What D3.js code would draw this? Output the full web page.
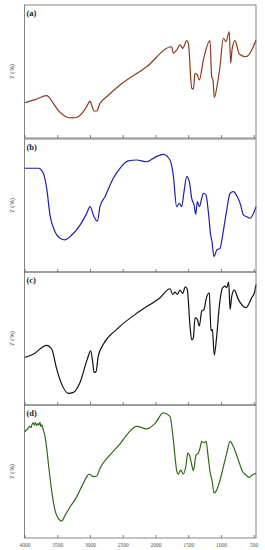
<!DOCTYPE html>
<html>
<head>
<meta charset="utf-8">
<script src="https://cdn.jsdelivr.net/npm/d3@7"></script>
<style>
  body { margin: 0; background: #fff; }
  svg { display: block; }
</style>
</head>
<body>
<div id="chart"></div>
<script>
// wavenumber ticks (cm-1)
const xTicks = [4000, 3500, 3000, 2500, 2000, 1500, 1000, 500];
const panelLabels = ["(a)", "(b)", "(c)", "(d)"];
const panelColors = ["#8b3b1e", "#1f1fa6", "#111111", "#2f6a19"];

// spectrum (a): [wavenumber, transmittance (relative)]
const specA = [
  [4000, 26.5], [3838, 28.9], [3661, 31.8], [3560, 26.1], [3488, 21], [3407, 17.3],
  [3350, 15.6], [3274, 15.2], [3198, 15.6], [3101, 19.8], [3046, 24], [3000, 27.8],
  [2970, 24], [2939, 20.3], [2898, 20.3], [2847, 26.1], [2745, 31], [2542, 39.8],
  [2135, 53.6], [1753, 68.6], [1728, 63.8], [1676, 66.2], [1626, 70], [1584, 67.4],
  [1523, 73.2], [1498, 71.3], [1446, 37.4], [1421, 36.7], [1396, 48.6], [1361, 47.4],
  [1330, 43.6], [1269, 58.6], [1168, 73.2], [1142, 46.1], [1122, 43.6], [1102, 30.6],
  [1045, 43.6], [1015, 53.6], [964, 75], [923, 72.4], [873, 79.9], [852, 56.2],
  [831, 66.2], [786, 73.2], [720, 63.2], [618, 61.1], [506, 68.6], [465, 73.7]
];

// spectrum (b)
const specB = [
  [4000, 78], [3787, 78], [3713, 74.2], [3661, 62.9], [3611, 42.9], [3534, 30.3],
  [3458, 25.3], [3381, 24.1], [3305, 26.5], [3152, 35.3], [3050, 44.1], [2999, 49.1],
  [2939, 41.6], [2888, 38.3], [2847, 49.1], [2771, 56.6], [2644, 70.5], [2542, 78],
  [2416, 83.5], [2287, 84.2], [2134, 82.9], [2008, 86.2], [1881, 88.5], [1778, 84.2],
  [1728, 72.9], [1677, 49.1], [1636, 51.7], [1600, 49.1], [1564, 60.4], [1523, 71.7],
  [1483, 67.9], [1447, 55.4], [1411, 50.4], [1385, 43.4], [1361, 52.9], [1330, 49.1],
  [1294, 55.4], [1269, 59.2], [1228, 57.9], [1193, 45.3], [1157, 27.8], [1137, 22.8],
  [1107, 11.5], [1065, 16.5], [1014, 17.8], [974, 27.8], [912, 46.6], [861, 59.2],
  [811, 60.4], [750, 56.6], [699, 50.4], [658, 42.9], [607, 41.6], [557, 40.4], [465, 49.1]
];

// spectrum (c)
const specC = [
  [4000, 35.7], [3866, 38.2], [3661, 44.9], [3584, 41.9], [3508, 27], [3432, 15.7],
  [3331, 8.8], [3254, 9.5], [3152, 17], [3041, 34.5], [2990, 40.7], [2958, 32],
  [2939, 24.5], [2909, 24.9], [2873, 36.9], [2796, 45.7], [2592, 56.9], [2237, 70.6],
  [1931, 80.7], [1778, 87.4], [1736, 83.1], [1702, 84.9], [1667, 83.1], [1626, 86.4],
  [1584, 83.9], [1545, 88.9], [1514, 86.9], [1473, 59.4], [1446, 48.9], [1421, 50.7],
  [1396, 65.7], [1361, 64.4], [1330, 59.4], [1294, 70.6], [1258, 71.9], [1228, 79.4],
  [1178, 84.4], [1152, 55.7], [1132, 56.9], [1102, 37.5], [1065, 51.9], [1025, 74.4],
  [974, 88.2], [938, 89.4], [912, 88.2], [882, 92.4], [861, 71.9], [835, 81.9],
  [796, 86.4], [735, 79.4], [618, 73.2], [530, 80.7], [490, 84.4], [465, 90.6]
];

// spectrum (d)
const specD = [
  [4000, 79.7], [3942, 82.7], [3920, 84], [3900, 83], [3885, 85.5], [3866, 86.5],
  [3850, 84.8], [3835, 86.8], [3813, 84.5], [3795, 86], [3780, 85], [3764, 87],
  [3750, 84], [3735, 85], [3722, 82.7], [3687, 76.4], [3661, 67.6], [3636, 56.2],
  [3586, 36], [3534, 20.8], [3483, 14.5], [3432, 12.7], [3381, 17], [3305, 23.3],
  [3203, 30.9], [3102, 41.1], [3011, 48.1], [2949, 46.1], [2897, 46.6], [2847, 52.4],
  [2694, 62.5], [2541, 70.8], [2416, 78.9], [2287, 83.9], [2134, 82], [2008, 86],
  [1881, 94.1], [1778, 91.5], [1728, 73.9], [1677, 51.1], [1651, 48.1], [1615, 51.1],
  [1574, 48.1], [1533, 54.9], [1507, 63.8], [1473, 61.2], [1446, 54.9], [1421, 50.6],
  [1380, 62.5], [1345, 63.8], [1319, 67.8], [1294, 72.6], [1258, 71.6], [1228, 72.6],
  [1193, 60], [1157, 47.3], [1137, 43.6], [1107, 33.9], [1065, 36], [1014, 43.6],
  [963, 53.6], [912, 63.8], [861, 72.6], [811, 68.8], [735, 58.7], [668, 49.8],
  [618, 47.3], [566, 45.6], [525, 47.3], [465, 48.6]
];

const spectra = [specA, specB, specC, specD];

// layout
const width = 265, height = 550;
const left = 24.5, right = 256;
const panelTops = [5, 139, 272, 405];
const panelH = 133;

const svg = d3.select("#chart")
  .append("svg")
    .attr("width", width)
    .attr("height", height);

const x = d3.scaleLinear()
  .domain([4000, 465])
  .range([left, right]);

spectra.forEach(function(data, i) {
  const top = panelTops[i];
  const y = d3.scaleLinear()
    .domain([0, 100])
    .range([top + panelH, top]);

  const g = svg.append("g");

  // bottom axis with inward ticks
  const axis = d3.axisBottom(x)
    .tickValues(xTicks)
    .tickSizeInner(-3)
    .tickSizeOuter(0)
    .tickPadding(5)
    .tickFormat(i === 3 ? d3.format("d") : "");

  const ax = g.append("g")
    .attr("transform", "translate(0," + (top + panelH) + ")")
    .call(axis);
  ax.select(".domain").remove();
  ax.selectAll(".tick line").attr("stroke", "#666").attr("stroke-width", 0.8);
  ax.selectAll(".tick text")
    .attr("font-family", "'Liberation Serif', serif")
    .attr("font-size", 5.5)
    .attr("fill", "#555");

  // curve
  g.append("path")
    .datum(data)
    .attr("fill", "none")
    .attr("stroke", panelColors[i])
    .attr("stroke-width", 1.2)
    .attr("stroke-linejoin", "round")
    .attr("d", d3.line()
      .x(function(d) { return x(d[0]); })
      .y(function(d) { return y(d[1]); })
      .curve(d3.curveMonotoneX));

  // frame
  g.append("rect")
    .attr("x", left)
    .attr("y", top)
    .attr("width", right - left)
    .attr("height", panelH)
    .attr("fill", "none")
    .attr("stroke", "#666")
    .attr("stroke-width", 0.8);

  // panel label
  g.append("text")
    .attr("x", left + 2)
    .attr("y", top + 11)
    .attr("font-family", "'Liberation Serif', serif")
    .attr("font-size", 8.5)
    .attr("font-weight", "bold")
    .attr("fill", "#222")
    .text(panelLabels[i]);

  // y label
  const yl = g.append("text")
    .attr("transform", "translate(14," + (top + panelH / 2) + ") rotate(-90)")
    .attr("text-anchor", "middle")
    .attr("font-family", "'Liberation Serif', serif")
    .attr("font-size", 6.5)
    .attr("fill", "#444");
  yl.append("tspan").attr("font-style", "italic").text("T");
  yl.append("tspan").text(" (%)");
});
</script>
</body>
</html>
